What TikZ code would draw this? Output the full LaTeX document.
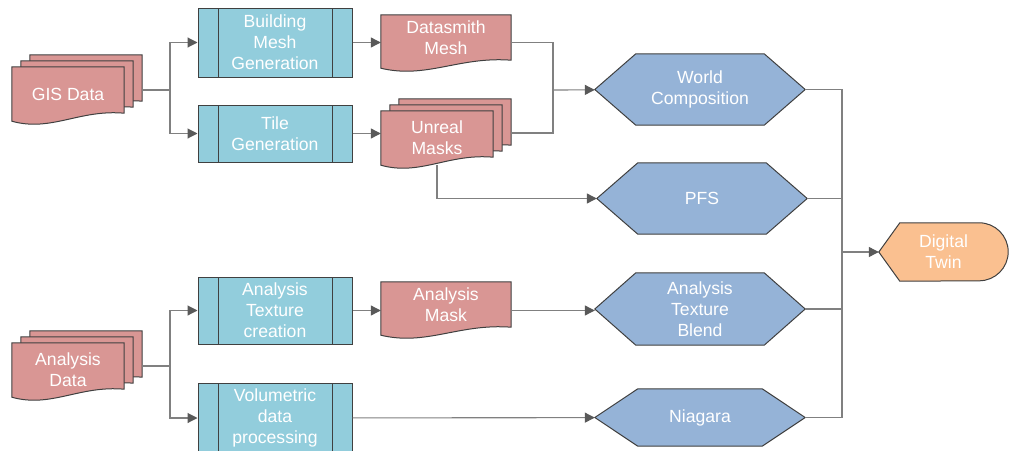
\documentclass[tikz,border=0pt]{standalone}
\usepackage{fontspec}
\setmainfont{Liberation Sans}
\usetikzlibrary{calc,arrows.meta,backgrounds}
\definecolor{docred}{RGB}{217,150,148}
\definecolor{procblue}{RGB}{146,205,220}
\definecolor{hexblue}{RGB}{149,179,215}
\definecolor{twinorange}{RGB}{250,192,144}
\definecolor{edge}{RGB}{64,64,64}
\definecolor{linegray}{RGB}{128,128,128}
\definecolor{headgray}{RGB}{89,89,89}
% outlines drawn behind the text nodes
\newcommand{\docshape}[3]{\filldraw[docu] ($(#1.north west)+(#2)$) -- ($(#1.north east)+(#2)$) -- ($(#1.south east)+(#2)+(0,-#3)$)
  .. controls ($(#1.south west)!0.6!(#1.south east)+(#2)+(0,-4-#3)$) and ($(#1.south west)!0.35!(#1.south east)+(#2)+(0,19-#3)$)
  .. ($(#1.south west)+(#2)+(0,8-#3)$) -- cycle;}
\newcommand{\hexshape}[2]{\filldraw[hexa] (#1.west) -- ($(#1.north west)+(#2,0)$) -- ($(#1.north east)+(-#2,0)$)
  -- (#1.east) -- ($(#1.south east)+(-#2,0)$) -- ($(#1.south west)+(#2,0)$) -- cycle;}
\newcommand{\dispshape}[2]{\filldraw[disp] (#1.west) -- ($(#1.north west)+(#2,0)$) -- ($(#1.north east)+(-29,0)$)
  arc[start angle=90,end angle=-90,radius=29pt] -- ($(#1.south west)+(#2,0)$) -- cycle;}
\begin{document}
\begin{tikzpicture}[x=1pt,y=-1pt,
  txt/.style={text=white,align=center,inner sep=0pt,font=\fontsize{17.6}{21}\selectfont},
  proc/.style={txt,draw=edge,line width=1pt,fill=procblue,minimum width=154,
    path picture={\draw[edge,line width=1pt] ([xshift=20pt]path picture bounding box.north west) -- ([xshift=20pt]path picture bounding box.south west);
      \draw[edge,line width=1pt] ([xshift=-20pt]path picture bounding box.north east) -- ([xshift=-20pt]path picture bounding box.south east);}},
  docbox/.style={txt,minimum width=112,minimum height=54},
  hexbox/.style={txt,minimum width=210,minimum height=71},
  docu/.style={draw=edge,line width=1pt,fill=docred},
  hexa/.style={draw=edge,line width=1pt,fill=hexblue},
  disp/.style={draw=edge,line width=1pt,fill=twinorange},
  conn/.style={draw=linegray,line width=1.1pt},
  flow/.style={conn,-{Triangle[length=10pt,width=10pt,color=headgray]}}]
\useasboundingbox (0,0) rectangle (1011,450);

\node[docbox] (gis) at (68,94) {GIS Data};
\node[docbox] (adata) at (68,370) {Analysis\\Data};
\node[proc,minimum height=69] (bmg) at (275,42.5) {Building\\Mesh\\Generation};
\node[proc,minimum height=57] (tile) at (275,133.5) {Tile\\Generation};
\node[proc,minimum height=67] (atc) at (275,310.5) {Analysis\\Texture\\creation};
\node[proc,minimum height=70] (vol) at (275,418) {Volumetric\\data\\processing};
\node[docbox,minimum width=130,minimum height=45] (dsm) at (446,37.5) {Datasmith\\Mesh};
\node[docbox] (umask) at (437,138) {Unreal\\Masks};
\node[docbox,minimum width=130,minimum height=45] (amask) at (446,304.5) {Analysis\\Mask};
\node[hexbox] (world) at (700,89.5) {World\\Composition};
\node[hexbox] (pfs) at (702,198.5) {PFS};
\node[hexbox,minimum height=72] (atb) at (700,309) {Analysis\\Texture\\Blend};
\node[hexbox,minimum height=57] (niag) at (700,417.5) {Niagara};
\node[txt,minimum width=129,minimum height=58] (twin) at (943.5,252) {Digital\\Twin};

\begin{scope}[on background layer]
\fill[white] (0,0) rectangle (1011,450);
\docshape{gis}{18,-12}{8} \docshape{gis}{9,-6}{8} \docshape{gis}{0,0}{8}
\docshape{adata}{18,-12}{8} \docshape{adata}{9,-6}{8} \docshape{adata}{0,0}{8}
\docshape{umask}{18,-12}{8} \docshape{umask}{9,-6}{8} \docshape{umask}{0,0}{8}
\docshape{dsm}{0,0}{0} \docshape{amask}{0,0}{0}
\hexshape{world}{41} \hexshape{pfs}{41} \hexshape{atb}{41} \hexshape{niag}{43}
\dispshape{twin}{21}
\end{scope}

\coordinate (gisout) at ($(gis.east)+(18,-4)$);
\coordinate (adataout) at ($(adata.east)+(18,-4)$);
\coordinate (umaskout) at ($(umask.east)+(18,-5)$);
\coordinate (gissplit) at (170,90);
\coordinate (adatasplit) at (170,366);
\coordinate (wcjoin) at (553,90);
\coordinate (dtjoin) at (842,252);

\draw[conn] (gisout) -- (gissplit);
\draw[flow] (gissplit) |- (bmg);
\draw[flow] (gissplit) |- (tile);
\draw[conn] (adataout) -- (adatasplit);
\draw[flow] (adatasplit) |- (atc);
\draw[flow] (adatasplit) |- (vol);
\draw[flow] (bmg.east) -- (bmg.east -| dsm.west);
\draw[flow] (tile.east) -- (tile.east -| umask.west);
\draw[flow] (atc.east) -- (atc.east -| amask.west);
\draw[flow] (vol) -- (niag);
\draw[conn] (bmg.east -| dsm.east) -| (wcjoin);
\draw[conn] (umaskout) -| (wcjoin);
\draw[flow] (wcjoin) -- (world);
\draw[flow] (umask.south) |- (pfs);
\draw[flow] (atc.east -| amask.east) -- (atc.east -| atb.west);
\draw[conn] (world.east) -| (dtjoin);
\draw[conn] (pfs.east) -| (dtjoin);
\draw[conn] (atb.east) -| (dtjoin);
\draw[conn] (niag.east) -| (dtjoin);
\draw[flow] (dtjoin) -- (twin);
\end{tikzpicture}
\end{document}
